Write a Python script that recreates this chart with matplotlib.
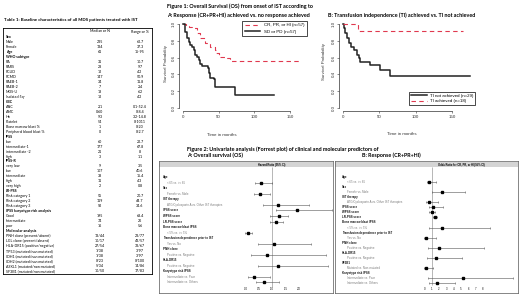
import matplotlib
matplotlib.use('Agg')
import matplotlib.pyplot as plt
import numpy as np

W, H = 520, 295

# ---- Table 1 data ----
tbl_labels = ['Sex', 'Male', 'Female', 'Age', 'WHO subtype', 'RA', 'RARS', 'RCUD', 'RCMD',
              'RAEB-1', 'RAEB-2', 'MDS-U', 'Isolated 5q-', 'CBC', 'ANC', 'AMC', 'Hb', 'Platelet',
              'Bone marrow blast %', 'Peripheral blood blast %', 'IPSS', 'low', 'intermediate-1',
              'intermediate -2', 'high', 'IPSS-R', 'very low', 'low', 'intermediate', 'high',
              'very high', 'LR-PSS', 'Risk category 1', 'Risk category 2', 'Risk category 3',
              'IPSS karyotype risk analysis', 'Good', 'Intermediate', 'poor', 'Molecular analysis',
              'PNH clone (present/absent)', 'LGL clone (present/absent)', 'HLA-DR15 (positive/negative)',
              'TP53 (mutated/non mutated)', 'IDH1 (mutated/non mutated)', 'IDH2 (mutated/non mutated)',
              'ASXL1 (mutated/non mutated)', 'SF3B1 (mutated/non mutated)']
tbl_bold = ['Sex', 'Age', 'WHO subtype', 'CBC', 'IPSS', 'IPSS-R', 'LR-PSS',
            'IPSS karyotype risk analysis', 'Molecular analysis']
tbl_median = ['', '235', '134', '61', '', '31', '28', '12', '147', '34', '7', '18', '12', '',
              '2.1', '0.60', '9.3', '54', '1', '0', '', '60', '177', '21', '3', '', '9', '107',
              '38', '11', '2', '', '55', '119', '92', '', '195', '74', '16', '',
              '13/44', '10/17', '27/54', '1/38', '1/38', '0/23', '5/34', '10/50']
tbl_range = ['', '62.7', '37.3', '15-95', '', '10.7', '9.7', '4.2', '50.9', '11.8', '2.4', '6.2',
             '4.2', '', '0.1-52.4', '0-8.4', '3.2-14.8', '0-1011', '0-20', '0-2.7', '', '22.7',
             '67.8', '8', '1.1', '', '3.5', '40.6', '15.4', '4.3', '0.8', '', '20.7', '44.7',
             '34.6', '', '68.4', '26', '5.6', '', '23/77', '43/57', '33/67', '3/97', '3/97',
             '0/100', '14/86', '17/83']

# ---- Figure 1 data (Kaplan-Meier steps) ----
a_resp_t = [0, 4, 9, 13, 20, 24, 31, 38, 45, 47, 50, 62, 66, 165]
a_resp_s = [1.0, 0.98, 0.96, 0.95, 0.89, 0.83, 0.77, 0.73, 0.69, 0.65, 0.61, 0.60, 0.56, 0.56]
a_nores_t = [0, 3.3, 5.6, 7.9, 10.3, 12.6, 15, 17.3, 19.6, 22, 24.3, 26.6, 34.6, 36, 38.3, 43, 45.3, 73.4, 127]
a_nores_s = [1.0, 0.91, 0.83, 0.79, 0.75, 0.73, 0.69, 0.63, 0.61, 0.575, 0.52, 0.50, 0.48, 0.42, 0.36, 0.34, 0.25, 0.16, 0.16]
b_noti_t = [0, 1.8, 3.2, 5.5, 7.8, 11, 14.7, 19.3, 21.6, 23, 37.6, 50.5, 65, 175]
b_noti_s = [1.0, 0.95, 0.89, 0.83, 0.77, 0.73, 0.69, 0.63, 0.59, 0.55, 0.51, 0.45, 0.38, 0.38]
b_ti_t = [0, 21, 165]
b_ti_s = [1.0, 0.92, 0.92]

# ---- Figure 2 data (forest plots) ----
os_labels = ['Age', '< 65 vs. >= 65', 'Sex', 'Female vs. Male', 'IST therapy',
             'ATG/Cyclosporin A vs. Other IST therapies', 'IPSS score', 'WPSS score', 'LR-PSS score',
             'Bone marrow blast IPSS', '< 5% vs. >= 5%', 'Transfusion dependence prior to IST',
             'Yes vs. No', 'PNH clone', 'Positive vs. Negative', 'HLA-DR15', 'Positive vs. Negative',
             'Karyotype risk IPSS', 'Intermediate vs. Poor', 'Intermediate vs. Others']
os_sub = [0, 1, 0, 1, 0, 1, 0, 0, 0, 0, 1, 0, 1, 0, 1, 0, 1, 0, 1, 1]
os_hr = [np.nan, 0.60, np.nan, 0.56, np.nan, 1.23, 1.94, 1.25, 1.15, np.nan, 0.09, np.nan, 1.09,
         np.nan, 0.81, np.nan, 1.23, np.nan, 0.31, 0.69]
os_lo = [np.nan, 0.34, np.nan, 0.31, np.nan, 0.65, 1.15, 0.94, 0.94, np.nan, 0.0, np.nan, 0.46,
         np.nan, 0.19, np.nan, 0.46, np.nan, 0.09, 0.38]
os_hi = [np.nan, 1.00, np.nan, 0.94, np.nan, 2.40, 3.25, 1.59, 1.41, np.nan, 0.25, np.nan, 2.48,
         np.nan, 3.04, np.nan, 3.09, np.nan, 0.91, 1.25]
os_ticks = [0.0, 0.5, 1.0, 1.5, 2.0]

rs_labels = ['Age', '< 65 vs. >= 65', 'Sex', 'Female vs. Male', 'IST therapy',
             'ATG/Cyclosporin A vs. Other IST therapies', 'IPSS score', 'WPSS score', 'LR-PSS score',
             'Bone marrow blast IPSS', '< 5% vs. >= 5%', 'Transfusion dependence prior to IST',
             'Yes vs. No', 'PNH clone', 'Positive vs. Negative', 'HLA-DR15', 'Positive vs. Negative',
             'SF3B1', 'Mutated vs. Non-mutated', 'Karyotype risk IPSS', 'Intermediate vs. Poor',
             'Intermediate vs. Others']
rs_sub = [0, 1, 0, 1, 0, 1, 0, 0, 0, 0, 1, 0, 1, 0, 1, 0, 1, 0, 1, 0, 1, 1]
rs_or = [np.nan, 0.68, np.nan, 2.36, np.nan, 0.68, 1.14, 1.0, 1.41, np.nan, 2.36, np.nan, 0.23,
         np.nan, 2.0, np.nan, 1.6, np.nan, 0.18, np.nan, 5.3, 1.68]
rs_lo = [np.nan, 0.32, np.nan, 1.0, np.nan, 0.23, 0.68, 0.68, 1.14, np.nan, 0.68, np.nan, 0.0,
         np.nan, 0.45, np.nan, 0.41, np.nan, 0.0, np.nan, 0.45, 0.68]
rs_hi = [np.nan, 1.6, np.nan, 5.55, np.nan, 1.9, 2.6, 1.45, 1.77, np.nan, 8.95, np.nan, 1.6,
         np.nan, 8.1, np.nan, 5.2, np.nan, 1.23, np.nan, 12.1, 4.2]
rs_ticks = [0, 1, 2, 3, 4, 5, 6, 7, 8]


def rect(x0, y0, x1, y1):
    # pixel box -> figure fraction
    return [x0 / W, 1 - y1 / H, (x1 - x0) / W, (y1 - y0) / H]


def ftext(x, y, s, **kw):
    kw.setdefault('va', 'center')
    fig.text(x / W, 1 - y / H, s, **kw)


fig = plt.figure(figsize=(W / 100, H / 100), dpi=100)
TF = 'Lato'
RF = 'Liberation Sans'

# ---- Table 1 ----
ftext(4, 20, 'Table 1: Baseline characteristics of all MDS patients treated with IST',
      family=TF, weight='bold', size=3.2)
tax = fig.add_axes(rect(3, 27.5, 152, 274))
tax.set_xlim(3, 152)
tax.set_ylim(274, 27.5)
tax.set_xticks([])
tax.set_yticks([])
for sp in tax.spines.values():
    sp.set_linewidth(0.6)
tax.text(100, 31.5, 'Median or N', ha='center', va='center', family=TF, size=2.6)
tax.text(140, 31.5, 'Range or %', ha='center', va='center', family=TF, size=2.6)
for i, lab in enumerate(tbl_labels):
    y = 37 + i * 4.98
    w = 'bold' if lab in tbl_bold and tbl_median[i] in ('', '61') else 'normal'
    tax.text(6, y, lab, ha='left', va='center', family=TF, size=2.6, weight=w)
    tax.text(100, y, tbl_median[i], ha='center', va='center', family=TF, size=2.6)
    tax.text(140, y, tbl_range[i], ha='center', va='center', family=TF, size=2.6)

# ---- Figure 1 titles ----
ftext(167, 6, 'Figure 1: Overall Survival (OS) from onset of IST according to',
      family=TF, weight='bold', size=3.9)
ftext(167, 15, 'A: Response (CR+PR+HI) achieved vs. no response achieved',
      family=TF, weight='bold', size=3.9)
ftext(328, 15, 'B: Transfusion independence (TI) achieved vs. TI not achieved',
      family=TF, weight='bold', size=3.9)

red = '#e0394f'


def km_axes(box, xlim):
    ax = fig.add_axes(rect(*box))
    ax.set_xlim(*xlim)
    ax.set_ylim(-0.04, 1.04)
    for s in ('top', 'right'):
        ax.spines[s].set_visible(False)
    ax.spines['left'].set_bounds(0, 1)
    ax.spines['bottom'].set_bounds(0, 150)
    for s in ('left', 'bottom'):
        ax.spines[s].set_linewidth(0.5)
        ax.spines[s].set_color('#333333')
    ax.set_xticks([0, 50, 100, 150])
    ax.set_yticks([0, 0.2, 0.4, 0.6, 0.8, 1.0])
    ax.set_yticklabels(['0.0', '0.2', '0.4', '0.6', '0.8', '1.0'], rotation=90, va='center')
    ax.tick_params(length=1.5, width=0.4, labelsize=3.2, pad=1, colors='#333333')
    for t in ax.get_xticklabels() + ax.get_yticklabels():
        t.set_family(RF)
    ax.patch.set_alpha(0)
    return ax


axA = km_axes((179.4, 20.6, 307, 111.4), (-5, 173.9))
l1, = axA.step(a_resp_t, a_resp_s, where='post', color=red, lw=0.8, ls=(0, (4, 3)))
l2, = axA.step(a_nores_t, a_nores_s, where='post', color='#222222', lw=1.1)
leg = axA.legend([l1, l2], ['CR, PR, or HI (n=57)', 'SD or PD (n=57)'], loc='upper right',
                 bbox_to_anchor=(1, 1), borderaxespad=0, fancybox=False, framealpha=1,
                 edgecolor='black', prop={'family': RF, 'size': 3.2}, handlelength=3.5,
                 labelspacing=0.5, borderpad=0.6)
leg.get_frame().set_linewidth(0.5)
ftext(166, 63, 'Survival Probability', family=RF, size=3.2, rotation=90, ha='center', color='#333333')
ftext(222, 135, 'Time in months', family=RF, size=3.2, ha='center', color='#333333')

axB = km_axes((339.4, 20.6, 475.3, 111.4), (-5, 182))
l3, = axB.step(b_noti_t, b_noti_s, where='post', color='#222222', lw=1.1)
l4, = axB.step(b_ti_t, b_ti_s, where='post', color=red, lw=0.8, ls=(0, (4, 3)))
leg = axB.legend([l3, l4], ['TI not achieved (n=29)', 'TI achieved (n=18)'], loc='lower right',
                 bbox_to_anchor=(1, 0.07), borderaxespad=0, fancybox=False, framealpha=1,
                 edgecolor='black', prop={'family': RF, 'size': 3.2}, handlelength=3.5,
                 labelspacing=0.3, borderpad=0.4)
leg.get_frame().set_linewidth(0.5)
ftext(324, 61, 'Survival Probability', family=RF, size=3.2, rotation=90, ha='center', color='#333333')
ftext(402, 134, 'Time in months', family=RF, size=3.2, ha='center', color='#333333')

# ---- Figure 2 titles ----
ftext(187, 149, 'Figure 2: Univariate analysis (Forrest plot) of clinical and molecular predictors of',
      family=TF, weight='bold', size=3.9)
ftext(187, 155.5, 'A: Overall survival (OS)', family=TF, weight='bold', size=3.9)
ftext(362, 155.5, 'B: Response (CR+PR+HI)', family=TF, weight='bold', size=3.9)


def forest(box, xlim, ylim, labels, sub, est, lo, hi, ticks, header, hx, bar, refend, lx, sx, tpad):
    ax = fig.add_axes(rect(*box))
    ax.set_xlim(*xlim)
    ax.set_ylim(*ylim)
    for sp in ax.spines.values():
        sp.set_linewidth(0.5)
        sp.set_color('#555555')
    ax.axhspan(bar[0], bar[1], color='#d4d4d4', lw=0)
    ax.text(hx, (bar[0] + bar[1]) / 2, header, transform=ax.get_yaxis_transform(),
            ha='center', va='center', family=RF, size=1.9, weight='bold')
    ax.vlines(1, bar[1], refend, color='#9a9a9a', lw=0.5)
    rows = np.arange(len(labels))
    est = np.array(est)
    ax.errorbar(est, rows, xerr=[est - np.array(lo), np.array(hi) - est], fmt='s', ms=2.0,
                color='black', ecolor='#555555', elinewidth=0.4, capsize=1, capthick=0.4)
    for i, lab in enumerate(labels):
        if sub[i]:
            ax.text(sx, i, lab, transform=ax.get_yaxis_transform(), ha='left', va='center',
                    family=RF, size=2.1, color='#7a7a7a')
        else:
            ax.text(lx, i, lab, transform=ax.get_yaxis_transform(), ha='left', va='center',
                    family=RF, size=2.1, weight='bold', color='#111111')
    ax.set_yticks([])
    ax.set_xticks(ticks)
    ax.set_xticklabels([('%g' % t) if isinstance(t, int) else ('%.1f' % t) for t in ticks])
    ax.tick_params(axis='x', direction='in', length=0, pad=tpad, labelsize=2.0)
    for t in ax.get_xticklabels():
        t.set_family(RF)
    return ax


forest((159, 161, 333, 293), (-3.25, 3.29), (20.92, -2.95), os_labels, os_sub,
       os_hr, os_lo, os_hi, os_ticks, 'Hazard Ratio (95% CI)', 0.65, (-2.77, -1.86), 19.8,
       0.023, 0.046, -4.4)
forest((335, 161, 518, 293), (-12.2, 12.8), (22.89, -3.09), rs_labels, rs_sub,
       rs_or, rs_lo, rs_hi, rs_ticks, 'Odds Ratio for CR, PR, or HI (95% CI)', 0.69,
       (-2.89, -1.91), 21.4, 0.038, 0.066, -4.4)

fig.savefig('out.png', dpi=100)
